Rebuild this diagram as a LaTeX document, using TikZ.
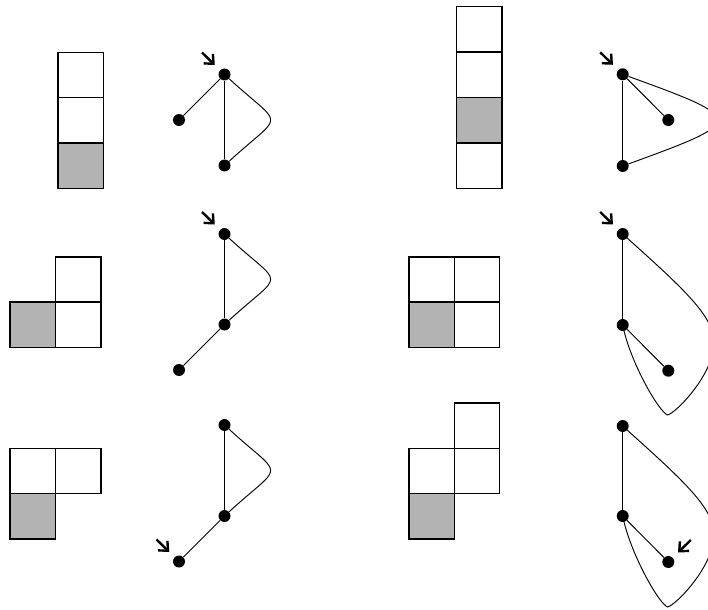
\documentclass[tikz,border=0pt]{standalone}
\usetikzlibrary{arrows.meta,calc}
\definecolor{cellgray}{RGB}{179,179,179}
\begin{document}
\begin{tikzpicture}[x=0.75pt,y=-0.75pt,
  cell/.style={draw,line width=1.1pt,minimum size=34.1pt,inner sep=0pt,outer sep=0pt},
  shaded/.style={cell,fill=cellgray},
  dot/.style={circle,fill,inner sep=0pt,minimum size=9pt},
  edge/.style={line width=0.7pt},
  pointer/.style={line width=1.8pt,-{Straight Barb[length=5.5pt,width=10pt]},shorten >=5.5pt}]
\path[use as bounding box,clip] (0,0) rectangle (708,610);

% ---------- panel 1 ----------
\node[cell]   (c1a) at (80.7,75)    {};
\node[cell]   (c1b) at (80.7,120.5) {};
\node[shaded] (c1c) at (80.7,165.8) {};
\node[dot] (t1) at (224.5,74.5) {};
\node[dot] (l1) at (179,120) {};
\node[dot] (b1) at (224.5,165.5) {};
\draw[edge] (t1) -- (l1);
\draw[edge] (t1) -- (b1);
\draw[edge] (t1) .. controls +(60,55) and +(60,-55) .. (b1);
\coordinate (a1) at ($(t1)+(-22.5,-22)$);
\draw[pointer] (a1) -- (t1);

% ---------- panel 2 ----------
\node[cell]   (c2a) at (479.3,29.2)  {};
\node[cell]   (c2b) at (479.3,74.9)  {};
\node[shaded] (c2c) at (479.3,120.5) {};
\node[cell]   (c2d) at (479.3,165.8) {};
\node[dot] (t2) at (622.7,74.3) {};
\node[dot] (l2) at (668.3,120) {};
\node[dot] (b2) at (622.7,166) {};
\draw[edge] (t2) -- (l2);
\draw[edge] (t2) -- (b2);
\draw[edge] (t2) .. controls +(124,45) and +(124,-45) .. (b2);
\coordinate (a2) at ($(t2)+(-22.5,-22)$);
\draw[pointer] (a2) -- (t2);

% ---------- panel 3 ----------
\node[cell]   (c3a) at (78.2,279.8) {};
\node[shaded] (c3b) at (32.7,324.8) {};
\node[cell]   (c3c) at (78.2,324.8) {};
\node[dot] (t3) at (224.5,234) {};
\node[dot] (m3) at (224.5,324.5) {};
\node[dot] (l3) at (179,370) {};
\draw[edge] (t3) -- (m3);
\draw[edge] (m3) -- (l3);
\draw[edge] (t3) .. controls +(60,55) and +(60,-55) .. (m3);
\coordinate (a3) at ($(t3)+(-22.5,-22)$);
\draw[pointer] (a3) -- (t3);

% ---------- panel 4 ----------
\node[cell]   (c4a) at (431.5,279.8) {};
\node[cell]   (c4b) at (477,279.8)   {};
\node[shaded] (c4c) at (431.5,324.8) {};
\node[cell]   (c4d) at (477,324.8)   {};
\node[dot] (t4) at (622.7,234) {};
\node[dot] (m4) at (622.7,325) {};
\node[dot] (l4) at (668.3,370.7) {};
\draw[edge] (t4) -- (m4);
\draw[edge] (m4) -- (l4);
\coordinate (r4) at ($(t4)+(91,116)$);
\coordinate (p4) at ($(t4)+(45,181)$);
\draw[edge] (t4.center) .. controls +(62,56) and +(6,-30) .. (r4)
  .. controls +(-6,30) and +(9,-3) .. (p4)
  .. controls +(-9,-3) and +(7,36) .. (m4.center);
\coordinate (a4) at ($(t4)+(-22.5,-22)$);
\draw[pointer] (a4) -- (t4);

% ---------- panel 5 ----------
\node[cell]   (c5a) at (32.7,471)   {};
\node[cell]   (c5b) at (78.2,471)   {};
\node[shaded] (c5c) at (32.7,516.3) {};
\node[dot] (t5) at (224.5,425) {};
\node[dot] (m5) at (224.5,516) {};
\node[dot] (l5) at (179,561.5) {};
\draw[edge] (t5) -- (m5);
\draw[edge] (m5) -- (l5);
\draw[edge] (t5) .. controls +(60,55) and +(60,-55) .. (m5);
\coordinate (a5) at ($(l5)+(-22.5,-22)$);
\draw[pointer] (a5) -- (l5);

% ---------- panel 6 ----------
\node[cell]   (c6a) at (477,425.5)   {};
\node[cell]   (c6b) at (431.5,471)   {};
\node[cell]   (c6c) at (477,471)     {};
\node[shaded] (c6d) at (431.5,516.3) {};
\node[dot] (t6) at (622.7,426) {};
\node[dot] (m6) at (622.7,516) {};
\node[dot] (l6) at (668.3,562) {};
\draw[edge] (t6) -- (m6);
\draw[edge] (m6) -- (l6);
\coordinate (r6) at ($(t6)+(91,116)$);
\coordinate (p6) at ($(t6)+(45,181)$);
\draw[edge] (t6.center) .. controls +(62,56) and +(6,-30) .. (r6)
  .. controls +(-6,30) and +(9,-3) .. (p6)
  .. controls +(-9,-3) and +(7,36) .. (m6.center);
\coordinate (a6) at ($(l6)+(22.5,-22)$);
\draw[pointer] (a6) -- (l6);
\end{tikzpicture}
\end{document}
